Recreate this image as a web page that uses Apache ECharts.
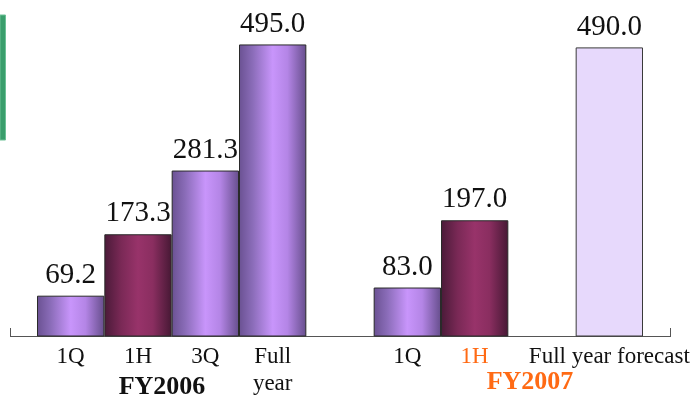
<!DOCTYPE html>
<html>
<head>
<meta charset="utf-8">
<script src="https://cdn.jsdelivr.net/npm/echarts@6/dist/echarts.min.js"></script>
<style>
  html, body { margin: 0; padding: 0; background: #fff; }
  #chart { width: 696px; height: 398px; }
</style>
</head>
<body>
<div id="chart"></div>
<script>
// Category slots along the axis (empty strings are spacer slots between fiscal years)
const categories = ['1Q', '1H', '3Q', 'Full\nyear', '', '1Q', '1H', '', 'Full year forecast'];
// Bar values per slot (null = no bar)
const values = [69.2, 173.3, 281.3, 495.0, null, 83.0, 197.0, null, 490.0];
// Bar style kind per slot
const kinds = ['quarter', 'half', 'quarter', 'quarter', null, 'quarter', 'half', null, 'forecast'];
// Fiscal year group labels
const groupLabels = ['FY2006', 'FY2007'];

const serif = '"Liberation Serif", "Times New Roman", serif';
const orange = '#ff6a14';

const fills = {
  quarter: {
    type: 'linear', x: 0, y: 0, x2: 1, y2: 0,
    colorStops: [
      { offset: 0, color: '#6a5192' },
      { offset: 0.2, color: '#8a6cb8' },
      { offset: 0.5, color: '#c895fb' },
      { offset: 0.72, color: '#b485e6' },
      { offset: 1, color: '#664e8c' }
    ]
  },
  half: {
    type: 'linear', x: 0, y: 0, x2: 1, y2: 0,
    colorStops: [
      { offset: 0, color: '#4a1a38' },
      { offset: 0.25, color: '#7a2956' },
      { offset: 0.5, color: '#98336a' },
      { offset: 0.72, color: '#8a2e60' },
      { offset: 1, color: '#461834' }
    ]
  },
  forecast: '#e7d9fc'
};

const barData = values.map((v, i) => {
  if (v === null) return null;
  const k = kinds[i];
  return {
    value: v,
    itemStyle: { color: fills[k], borderColor: k === 'forecast' ? '#3a3a3a' : '#2a2a2a', borderWidth: 1 }
  };
});

const chart = echarts.init(document.getElementById('chart'));

chart.setOption({
  animation: false,
  grid: { left: 37, right: 53, top: 12, bottom: 61.5, outerBoundsMode: 'none', containLabel: false },
  xAxis: {
    type: 'category',
    data: categories,
    axisLine: { show: false },
    axisTick: { show: false },
    axisLabel: {
      interval: 0,
      margin: 7,
      fontFamily: serif,
      fontSize: 23,
      lineHeight: 27,
      color: '#111',
      overflow: 'none',
      formatter: (val, idx) => idx === 6 ? '{o|' + val + '}' : val,
      rich: { o: { color: orange, fontFamily: serif, fontSize: 23, lineHeight: 27 } }
    }
  },
  yAxis: {
    type: 'value',
    min: 0,
    max: 550,
    show: false,
    splitLine: { show: false }
  },
  series: [{
    type: 'bar',
    data: barData,
    barWidth: '100%',
    barCategoryGap: '0%',
    label: {
      show: true,
      position: 'top',
      distance: 6,
      fontFamily: serif,
      fontSize: 29,
      color: '#111',
      formatter: p => Number(p.value).toFixed(1)
    }
  }],
  graphic: [
    // baseline axis with end ticks
    { type: 'line', shape: { x1: 10, y1: 336.5, x2: 670, y2: 336.5 }, style: { stroke: '#555', lineWidth: 1 } },
    { type: 'line', shape: { x1: 10.5, y1: 328, x2: 10.5, y2: 337 }, style: { stroke: '#555', lineWidth: 1 } },
    { type: 'line', shape: { x1: 670.5, y1: 328, x2: 670.5, y2: 337 }, style: { stroke: '#555', lineWidth: 1 } },
    // green accent strip on the left edge
    { type: 'rect', shape: { x: 0, y: 15, width: 5.5, height: 125 }, style: { fill: '#3a9e6c', stroke: '#6cc196', lineWidth: 1 } },
    // fiscal year group labels
    { type: 'text', x: 162, y: 387, style: { text: groupLabels[0], font: 'bold 26px ' + serif, fill: '#111', textAlign: 'center', textVerticalAlign: 'middle' } },
    { type: 'text', x: 530, y: 382, style: { text: groupLabels[1], font: 'bold 26px ' + serif, fill: orange, textAlign: 'center', textVerticalAlign: 'middle' } }
  ]
});
</script>
</body>
</html>
